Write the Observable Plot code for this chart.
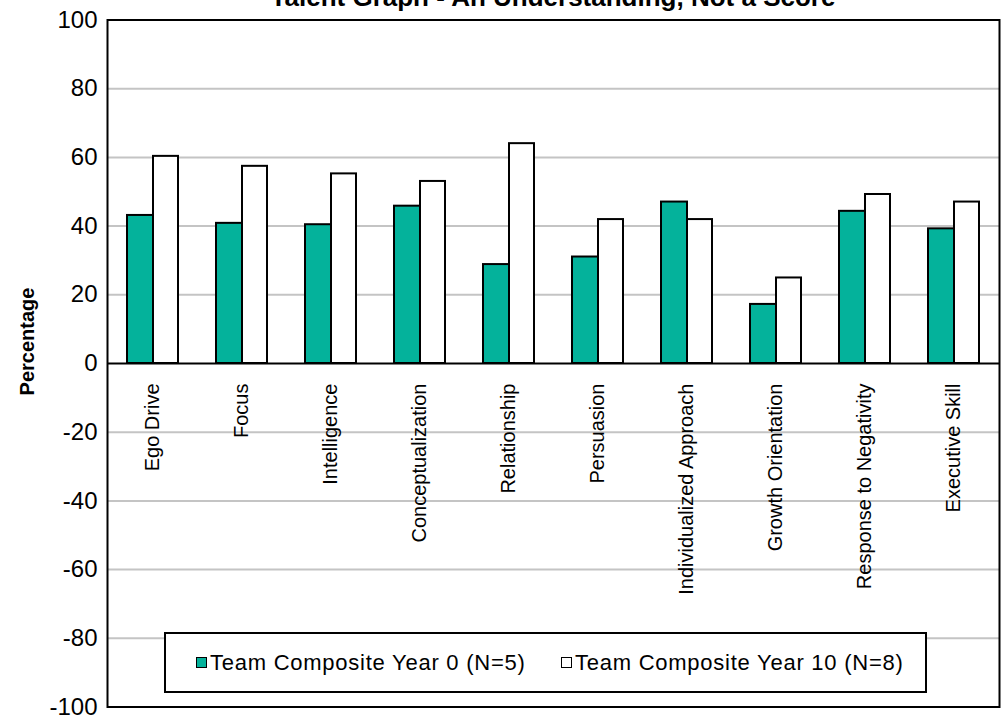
<!DOCTYPE html>
<html><head><meta charset="utf-8">
<script src="https://cdn.jsdelivr.net/npm/d3@7"></script>
<script src="https://cdn.jsdelivr.net/npm/@observablehq/plot@0.6"></script>
<style>
html,body{margin:0;padding:0;background:#fff;overflow:hidden;}
#wrap{position:relative;width:1002px;height:719px;font-family:"Liberation Sans",Arial,sans-serif;}
#title{position:absolute;left:107px;width:892px;top:-18px;line-height:30px;font-size:26px;font-weight:bold;text-align:center;white-space:nowrap;color:#000;}
#legend{position:absolute;left:164px;top:632px;width:763px;height:61px;box-sizing:border-box;border:2px solid #000;background:#fff;}
.item{position:absolute;top:0;height:100%;display:flex;align-items:center;font-size:22px;letter-spacing:0.75px;white-space:nowrap;color:#000;}
.sw{width:9px;height:9px;border:1.5px solid #000;margin-right:3px;flex:none;}
</style></head>
<body><div id="wrap"><div id="chart"></div><div id="legend"></div><div id="title"></div></div>
<script>
const title = "Talent Graph - An Understanding, Not a Score";
const categories = ["Ego Drive","Focus","Intelligence","Conceptualization","Relationship","Persuasion","Individualized Approach","Growth Orientation","Response to Negativity","Executive Skill"];
const year0  = [43.1, 40.8, 40.4, 45.8, 28.8, 31.0, 47.0, 17.2, 44.3, 39.2];
const year10 = [60.3, 57.4, 55.2, 53.0, 64.0, 41.9, 41.9, 24.9, 49.2, 47.0];
const seriesNames = ["Team Composite Year 0 (N=5)", "Team Composite Year 10 (N=8)"];
const seriesColors = ["#04b29b", "#ffffff"];
const yTicks = [-100,-80,-60,-40,-20,0,20,40,60,80,100];
const yLabel = "Percentage";

const rows0 = categories.map((c,i)=>({cat:c, series:seriesNames[0], value:year0[i]}));
const rows10 = categories.map((c,i)=>({cat:c, series:seriesNames[1], value:year10[i]}));

const chart = Plot.plot({
  width: 1002,
  height: 719,
  marginLeft: 107,
  marginRight: 3,
  marginTop: 19.5,
  marginBottom: 12.5,
  style: {fontFamily: '"Liberation Sans", Arial, sans-serif', background: "transparent", color: "#000"},
  x: {domain: categories, paddingInner: 0.428, paddingOuter: 0.214, axis: null},
  y: {domain: [-100, 100], axis: null},
  marks: [
    Plot.ruleY(yTicks.filter(d => d !== 0 && Math.abs(d) !== 100), {stroke: "#c4c4c4", strokeWidth: 2}),
    Plot.axisY(yTicks, {tickSize: 0, tickPadding: 10, fontSize: 24, tickFormat: d => String(d), label: null}),
    Plot.barY(rows0, {x: "cat", y: "value", fill: seriesColors[0], stroke: "#000", strokeWidth: 2, insetRight: 25}),
    Plot.barY(rows10, {x: "cat", y: "value", fill: seriesColors[1], stroke: "#000", strokeWidth: 2, insetLeft: 26}),
    Plot.ruleY([0], {stroke: "#000", strokeWidth: 2}),
    Plot.text(categories, {x: d => d, y: 0, rotate: -90, textAnchor: "end", dy: 20, fontSize: 20, fill: "#000", ariaLabel: "xlabels"}),
    Plot.text([yLabel], {frameAnchor: "left", dx: -80, dy: -22, rotate: -90, textAnchor: "middle", fontWeight: "bold", fontSize: 20, fill: "#000"}),
    Plot.frame({stroke: "#000", strokeWidth: 2})
  ]
});
d3.select(chart).selectAll('g[aria-label="xlabels"] text').style("letter-spacing", "0.6px");
document.getElementById("chart").appendChild(chart);

document.getElementById("title").textContent = title;
const legend = document.getElementById("legend");
const itemLefts = [30, 395];
seriesNames.forEach((name, i) => {
  const it = document.createElement("div");
  it.className = "item";
  it.style.left = itemLefts[i] + "px";
  const sw = document.createElement("span");
  sw.className = "sw";
  sw.style.background = seriesColors[i];
  const tx = document.createElement("span");
  tx.textContent = name;
  it.appendChild(sw); it.appendChild(tx);
  legend.appendChild(it);
});
</script>
</body></html>
